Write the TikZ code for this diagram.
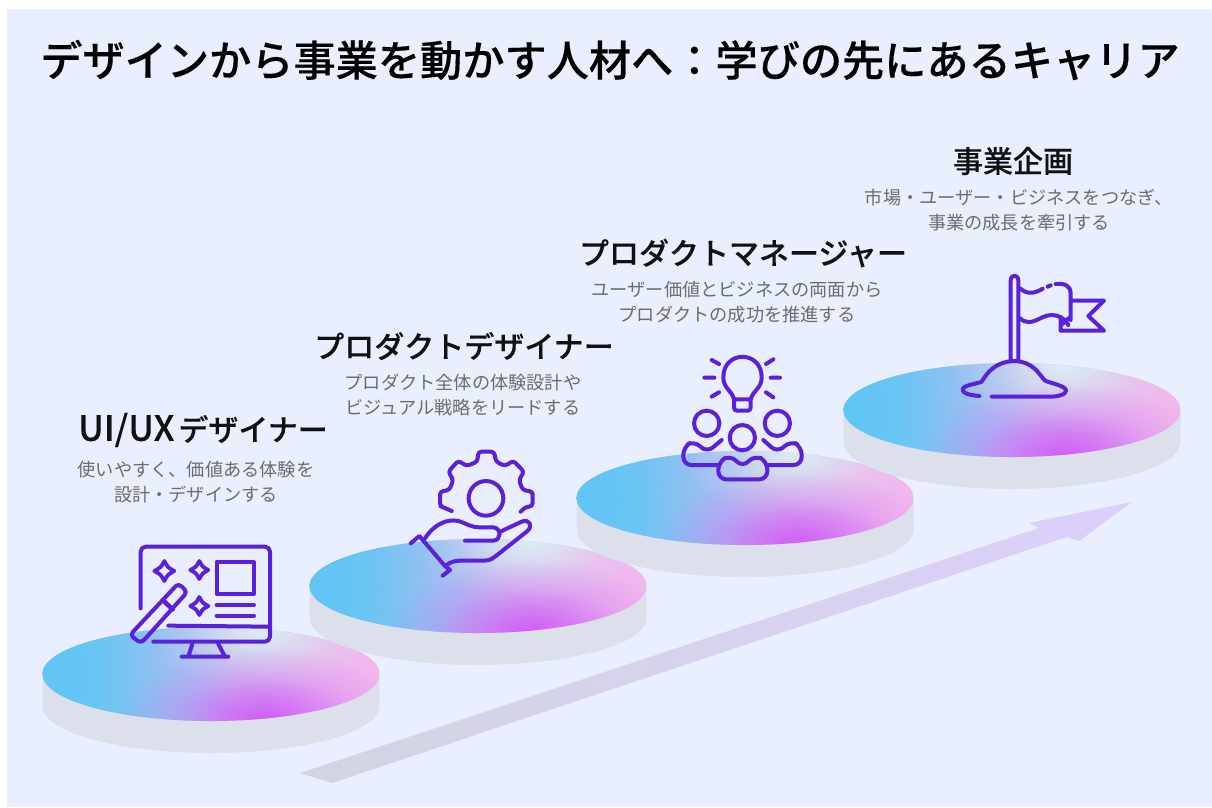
\documentclass[tikz,border=0pt]{standalone}
\usepackage{fontspec}
\usetikzlibrary{fadings}
\setmainfont{Noto Sans CJK JP}
\newfontfamily\titlefont[FakeBold=0.35]{Noto Sans CJK JP Medium}
\newfontfamily\headfont[FakeBold=0.2]{Noto Sans CJK JP Medium}
\definecolor{panel}{HTML}{E9EFFF}
\definecolor{ink}{HTML}{111111}
\definecolor{grayt}{HTML}{6C6C70}
\definecolor{icon}{HTML}{5A20DC}
\definecolor{side}{HTML}{DCE0EA}
\definecolor{cy}{HTML}{62C6F5}
\definecolor{midc}{HTML}{A6A8F2}
\definecolor{pk}{HTML}{F2B8EE}
\definecolor{pale}{HTML}{DCF0F2}
\definecolor{mg}{HTML}{D05CF6}
\definecolor{arrA}{HTML}{D2D5E0}
\definecolor{arrB}{HTML}{DCCFFC}
\pgfdeclareradialshading{softblob}{\pgfpointorigin}{color(0bp)=(white); color(8bp)=(white!62!black); color(16bp)=(white!22!black); color(25bp)=(black); color(50bp)=(black)}
\pgfdeclarefading{blob}{\pgfuseshading{softblob}}
\tikzset{
  titletext/.style={font=\titlefont\fontsize{42.2}{48}\selectfont, text=black, inner sep=0pt},
  headtext/.style={font=\headfont\fontsize{30}{36}\selectfont, text=ink, inner sep=0pt},
  desctext/.style={font=\fontsize{18.2}{25}\selectfont, text=grayt, align=center, inner sep=0pt},
  iconline/.style={draw=icon, line width=4pt, line cap=round, line join=round, fill=none},
  thin icon/.style={draw=icon, line width=3.8pt, line cap=round, line join=round, fill=none},
  iconzoom/.style={x=0.33333pt, y=-0.33333pt, shift={#1}},
}
\newcommand{\platform}[2]{%
  \fill[side] (#1-168.5,#2) -- (#1-168.5,#2+32) arc[start angle=180,end angle=0,x radius=168.5,y radius=47] -- (#1+168.5,#2) -- cycle;
  \begin{scope}
    \clip (#1,#2) ellipse[x radius=168.5,y radius=47];
    \shade[left color=cy, middle color=midc, right color=pk] (#1-168.5,#2-47) rectangle (#1+168.5,#2+47);
    \fill[cy, path fading=blob, fit fading] (#1-170,#2) ellipse[x radius=190,y radius=190];
    \fill[pk, path fading=blob, fit fading] (#1+190,#2-5) ellipse[x radius=300,y radius=190];
    \fill[pale, path fading=blob, fit fading] (#1+52,#2-48) ellipse[x radius=115,y radius=72];
    \fill[mg, path fading=blob, fit fading] (#1+54,#2+46) ellipse[x radius=145,y radius=72];
  \end{scope}
}
\newcommand{\fourstar}[3]{%
  \draw[thin icon] (#1,#2-#3) .. controls (#1+.35*#3,#2-.35*#3) .. (#1+#3,#2) .. controls (#1+.35*#3,#2+.35*#3) .. (#1,#2+#3) .. controls (#1-.35*#3,#2+.35*#3) .. (#1-#3,#2) .. controls (#1-.35*#3,#2-.35*#3) .. cycle;
}
\begin{document}
\begin{tikzpicture}[x=1pt,y=-1pt]
\useasboundingbox (0,0) rectangle (1212,807);
\fill[white] (0,0) rectangle (1212,807);
\fill[panel] (7,9) rectangle (1212,807);
% rising arrow
\shade[left color=arrA, right color=arrB] (300,773) -- (332,783) -- (1067,537) -- (1079,541) -- (1132,502) -- (1029,523) -- (1039,528) -- cycle;
% platforms
\platform{211}{674}
\platform{478}{586}
\platform{745}{498}
\platform{1012}{410}
% title and labels
\node[titletext] (title) at (610,60) {デザインから事業を動かす人材へ：学びの先にあるキャリア};
\node[headtext] (h1) at (203,430) {{\fontsize{35}{36}\selectfont UI/UX}\hspace{4pt}デザイナー};
\node[desctext] (d1) at (196,482) {使いやすく、価値ある体験を\\設計・デザインする};
\node[headtext] (h2) at (464,346) {プロダクトデザイナー};
\node[desctext] (d2) at (463,395) {プロダクト全体の体験設計や\\ビジュアル戦略をリードする};
\node[headtext] (h3) at (743,253) {プロダクトマネージャー};
\node[desctext] (d3) at (737,302) {ユーザー価値とビジネスの両面から\\プロダクトの成功を推進する};
\node[headtext] (h4) at (1013,161) {事業企画};
\node[desctext] (d4) at (1019,210) {市場・ユーザー・ビジネスをつなぎ、\\事業の成長を牽引する};
% icon 1: monitor and wand
\begin{scope}[iconzoom={(30pt,-520pt)}]
  \draw[iconline, rounded corners=5pt] (332,265) -- (332,80) -- (720,80) -- (720,365) -- (370,365);
  \draw[iconline] (415,317) -- (718,320);
  \draw[iconline] (487,372) -- (475,410) (565,372) -- (585,410) (455,410) -- (595,410);
  \draw[iconline] (560,127) rectangle (672,222);
  \draw[iconline] (560,255) -- (672,255) (560,287) -- (672,287);
  \draw[iconline, rounded corners=4pt] (333,370) -- (472,216) -- (445,190) -- (300,345) -- cycle;
  \draw[iconline, line width=4.6pt] (400,242) -- (428,268);
  \fourstar{403}{153}{30}
  \fourstar{508}{150}{27}
  \fourstar{508}{258}{27}
\end{scope}
% icon 2: gear on hand
\begin{scope}[iconzoom={(390pt,-430pt)}]
  \draw[iconline, rounded corners=3pt] (185,243) -- (160,232) -- (150,228) -- (150,185) -- (178,180) -- (190,150) -- (175,125) -- (205,92) -- (230,108) -- (262,95) -- (265,65) -- (312,65) -- (318,95) -- (345,108) -- (370,92) -- (402,125) -- (387,150) -- (398,180) -- (428,185) -- (428,228) -- (405,232) -- (392,245);
  \draw[iconline] (288,205) circle[radius=52];
  \draw[iconline] (62,340) -- (88,318) -- (165,408) -- (180,420) -- (158,437);
  \draw[iconline] (105,325) .. controls (130,285) and (170,265) .. (205,273) .. controls (230,280) and (240,292) .. (270,292) -- (310,292) .. controls (335,295) and (335,330) .. (310,332) -- (225,332);
  \draw[iconline] (335,303) -- (395,275) .. controls (420,265) and (430,290) .. (410,305) -- (315,380) .. controls (300,392) and (290,392) .. (270,392) -- (210,392) .. controls (190,392) and (180,398) .. (170,405);
\end{scope}
% icon 3: bulb and team
\begin{scope}[iconzoom={(660pt,-340pt)}]
  \draw[iconline] (222,178) .. controls (215,150) and (190,145) .. (190,112) .. controls (190,30) and (305,30) .. (305,112) .. controls (305,145) and (280,150) .. (272,178) -- cycle;
  \draw[iconline, rounded corners=3pt] (222,178) -- (222,212) -- (272,212) -- (272,178);
  \draw[iconline] (155,60) -- (177,72) (133,113) -- (163,113) (155,170) -- (177,157) (340,58) -- (318,72) (332,113) -- (360,113) (340,172) -- (318,157);
  \draw[iconline] (140,250) circle[radius=38] (352,250) circle[radius=38] (247,293) circle[radius=38];
  \draw[iconline, rounded corners=8pt] (185,300) -- (140,338) -- (103,302) -- (70,320) -- (70,375) -- (172,375);
  \draw[iconline, rounded corners=8pt] (310,300) -- (352,338) -- (392,302) -- (425,320) -- (425,375) -- (325,375);
  \draw[iconline, rounded corners=8pt] (212,345) -- (247,382) -- (285,345) -- (322,365) -- (322,418) -- (175,418) -- (175,365) -- cycle;
\end{scope}
% icon 4: flag on mound
\begin{scope}[iconzoom={(940pt,-260pt)}]
  \draw[iconline] (212,300) -- (212,62) .. controls (212,42) and (235,42) .. (235,62) -- (235,300);
  \draw[iconline] (240,85) .. controls (262,105) and (285,100) .. (308,86);
  \draw[iconline] (323,80) -- (332,76);
  \draw[iconline] (347,72) .. controls (375,68) and (392,80) .. (392,98) -- (392,180);
  \draw[iconline] (240,175) .. controls (275,205) and (300,165) .. (335,165) .. controls (355,165) and (375,175) .. (385,195);
  \draw[iconline] (395,122) -- (492,122) -- (445,168) -- (492,212) -- (362,212) -- (362,172);
  \draw[iconline] (366,193) -- (385,175);
  \draw[iconline] (118,408) .. controls (85,405) and (68,400) .. (68,388) .. controls (70,375) and (110,372) .. (125,365) .. controls (140,340) and (165,305) .. (222,303) .. controls (280,305) and (295,340) .. (315,362) .. controls (340,372) and (378,378) .. (378,392) .. controls (378,405) and (350,410) .. (330,410) -- (155,410);
\end{scope}
\end{tikzpicture}
\end{document}
